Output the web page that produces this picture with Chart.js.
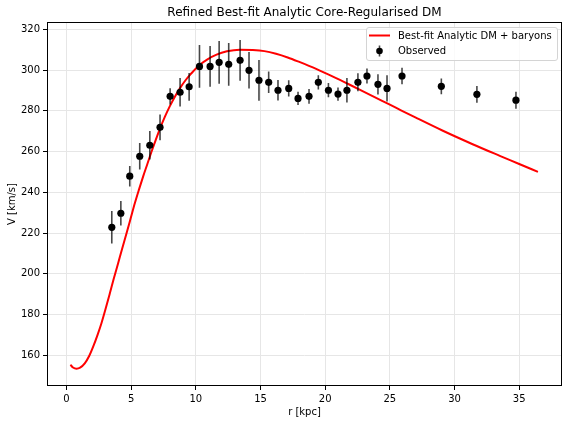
<!DOCTYPE html>
<html>
<head>
<meta charset="utf-8">
<script src="https://cdn.jsdelivr.net/npm/chart.js@4"></script>
<style>
  html, body { margin: 0; padding: 0; background: #fff; }
  canvas { display: block; }
</style>
</head>
<body>
<canvas id="chart" width="568" height="424"></canvas>
<script>
// observed rotation curve
const obsR = [3.5, 4.2, 4.89, 5.66, 6.44, 7.23, 8.01, 8.78, 9.48, 10.28, 11.1, 11.8, 12.54, 13.42, 14.11,
  14.88, 15.63, 16.35, 17.18, 17.9, 18.75, 19.47, 20.25, 20.99, 21.68, 22.53, 23.23, 24.08, 24.78,
  25.94, 28.98, 31.73, 34.75];
const obsV = [222.8, 229.7, 247.9, 257.7, 263.1, 271.9, 287.1, 289.1, 291.8, 301.8, 301.8, 303.8, 302.8,
  304.8, 299.9, 295.0, 294.0, 290.1, 291.0, 286.1, 287.1, 294.0, 290.1, 288.2, 290.1, 294.0, 297.1,
  293.0, 291.0, 297.1, 292.0, 288.1, 285.2];
const obsErr = [8, 6, 5, 6.5, 7, 6.3, 4, 7, 6.8, 10.5, 10, 10.5, 10.5, 10, 9, 10, 5.3, 5, 4, 3.2, 3.6,
  3.5, 3.5, 3.3, 6, 4.4, 3.7, 5, 6.4, 4, 3.9, 4.1, 4.2];

// best-fit model curve
const fitR = [0.3, 0.5, 0.77, 1.05, 1.41, 1.75, 2.06, 2.4, 2.7, 3.0, 3.35, 3.65, 3.99, 4.3, 4.64, 4.95,
  5.28, 5.6, 5.92, 6.25, 6.57, 6.9, 7.21, 7.6, 7.98, 8.4, 8.8, 9.2, 9.6, 10.3, 10.9, 11.6, 12.4, 13.4,
  14.4, 15.3, 16.2, 17.1, 18.0, 19.3, 20.6, 21.9, 23.2, 24.4, 25.5, 27.05, 29.1, 31.4, 33.5, 35.0, 36.45];
const fitV = [155.3, 154.0, 153.4, 153.9, 156.0, 159.6, 164.2, 170.0, 175.7, 182.3, 190.4, 197.5, 205.2,
  212.3, 219.9, 227.0, 234.6, 241.3, 247.7, 253.9, 259.9, 265.7, 271.0, 277.0, 282.2, 287.2, 291.4,
  295.0, 298.0, 302.6, 305.3, 307.6, 309.2, 310.0, 309.85, 309.3, 308.0, 306.2, 304.0, 300.6, 296.8,
  292.8, 288.7, 284.9, 281.4, 276.5, 270.2, 263.6, 257.9, 253.9, 250.0];

const xTicks = [0, 5, 10, 15, 20, 25, 30, 35];
const yTicks = [160, 180, 200, 220, 240, 260, 280, 300, 320];
const xRange = [-1.51, 38.31];
const yRange = [144.9, 323.6];
const legendLabels = ['Best-fit Analytic DM + baryons', 'Observed'];

const FONT = "'DejaVu Sans', sans-serif";

const errorBars = {
  id: 'errorBars',
  beforeDatasetDraw(chart, args) {
    if (args.index !== 0) return;
    const { ctx, scales: { x, y } } = chart;
    ctx.save();
    ctx.strokeStyle = 'rgba(0,0,0,0.72)';
    ctx.lineWidth = 1.6;
    ctx.beginPath();
    obsR.forEach((r, i) => {
      const px = x.getPixelForValue(r);
      ctx.moveTo(px, y.getPixelForValue(obsV[i] - obsErr[i]));
      ctx.lineTo(px, y.getPixelForValue(obsV[i] + obsErr[i]));
    });
    ctx.stroke();
    ctx.restore();
  }
};

const frame = {
  id: 'frame',
  afterDatasetsDraw(chart) {
    const { ctx, chartArea: a } = chart;
    ctx.save();
    ctx.strokeStyle = '#000';
    ctx.lineWidth = 1;
    ctx.strokeRect(a.left + 0.5, a.top + 0.5, a.right - a.left - 1, a.bottom - a.top - 1);
    ctx.restore();
  }
};

const legendBox = {
  id: 'legendBox',
  afterDraw(chart) {
    const { ctx, chartArea: a } = chart;
    ctx.save();
    ctx.font = `10px ${FONT}`;
    const textW = Math.max(...legendLabels.map(t => ctx.measureText(t).width));
    const w = Math.round(32 + textW + 5);
    const h = 33;
    const bx = Math.round(a.right - 5 - w);
    const by = Math.round(a.top + 5);

    ctx.fillStyle = 'rgba(255,255,255,0.8)';
    ctx.strokeStyle = '#d4d4d4';
    ctx.lineWidth = 1;
    ctx.beginPath();
    if (ctx.roundRect) ctx.roundRect(bx + 0.5, by + 0.5, w, h, 2.5);
    else ctx.rect(bx + 0.5, by + 0.5, w, h);
    ctx.fill();
    ctx.stroke();

    // line handle
    ctx.strokeStyle = 'red';
    ctx.lineWidth = 2;
    ctx.beginPath();
    ctx.moveTo(bx + 3, by + 8.5);
    ctx.lineTo(bx + 24, by + 8.5);
    ctx.stroke();

    // errorbar handle
    const hx = bx + 13.5, hy = by + 24;
    ctx.strokeStyle = 'rgba(0,0,0,0.72)';
    ctx.lineWidth = 1.6;
    ctx.beginPath();
    ctx.moveTo(hx, hy - 5.5);
    ctx.lineTo(hx, hy + 5.5);
    ctx.stroke();
    ctx.fillStyle = '#000';
    ctx.beginPath();
    ctx.arc(hx, hy, 3.3, 0, Math.PI * 2);
    ctx.fill();

    ctx.fillStyle = '#000';
    ctx.textBaseline = 'middle';
    ctx.fillText(legendLabels[0], bx + 32, by + 9);
    ctx.fillText(legendLabels[1], bx + 32, by + 24.5);
    ctx.restore();
  }
};

new Chart(document.getElementById('chart'), {
  type: 'scatter',
  data: {
    datasets: [
      {
        label: legendLabels[1],
        data: obsR.map((r, i) => ({ x: r, y: obsV[i] })),
        backgroundColor: '#000',
        borderColor: '#000',
        borderWidth: 0,
        pointRadius: 3.6,
        order: 0
      },
      {
        label: legendLabels[0],
        data: fitR.map((r, i) => ({ x: r, y: fitV[i] })),
        showLine: true,
        borderColor: '#ff0000',
        borderWidth: 2,
        pointRadius: 0,
        cubicInterpolationMode: 'monotone',
        order: 1
      }
    ]
  },
  options: {
    responsive: false,
    animation: false,
    devicePixelRatio: 1,
    events: [],
    layout: { padding: { left: 0, right: 6, top: 0, bottom: 0 } },
    plugins: {
      legend: { display: false },
      tooltip: { enabled: false },
      title: {
        display: true,
        text: 'Refined Best-fit Analytic Core-Regularised DM',
        color: '#000',
        font: { family: FONT, size: 12, weight: 'normal' },
        padding: { top: 6, bottom: 1.6 },
        fullSize: false
      }
    },
    scales: {
      x: {
        type: 'linear',
        min: xRange[0],
        max: xRange[1],
        afterBuildTicks: s => { s.ticks = xTicks.map(v => ({ value: v })); },
        afterFit: s => { s.height = 38; },
        grid: { color: '#e6e6e6', lineWidth: 1, tickColor: '#000', tickLength: 4 },
        border: { display: false },
        ticks: { color: '#000', font: { family: FONT, size: 10 }, padding: 3, maxRotation: 0, autoSkip: false },
        title: { display: true, text: 'r [kpc]', color: '#000', font: { family: FONT, size: 10 }, padding: { top: 0, bottom: 6 } }
      },
      y: {
        type: 'linear',
        min: yRange[0],
        max: yRange[1],
        afterBuildTicks: s => { s.ticks = yTicks.map(v => ({ value: v })); },
        afterFit: s => { s.width = 47; },
        grid: { color: '#e6e6e6', lineWidth: 1, tickColor: '#000', tickLength: 4 },
        border: { display: false },
        ticks: { color: '#000', font: { family: FONT, size: 10 }, padding: 3, autoSkip: false },
        title: { display: true, text: 'V [km/s]', color: '#000', font: { family: FONT, size: 10 }, padding: { top: 6, bottom: 0 } }
      }
    }
  },
  plugins: [errorBars, frame, legendBox]
});
</script>
</body>
</html>
